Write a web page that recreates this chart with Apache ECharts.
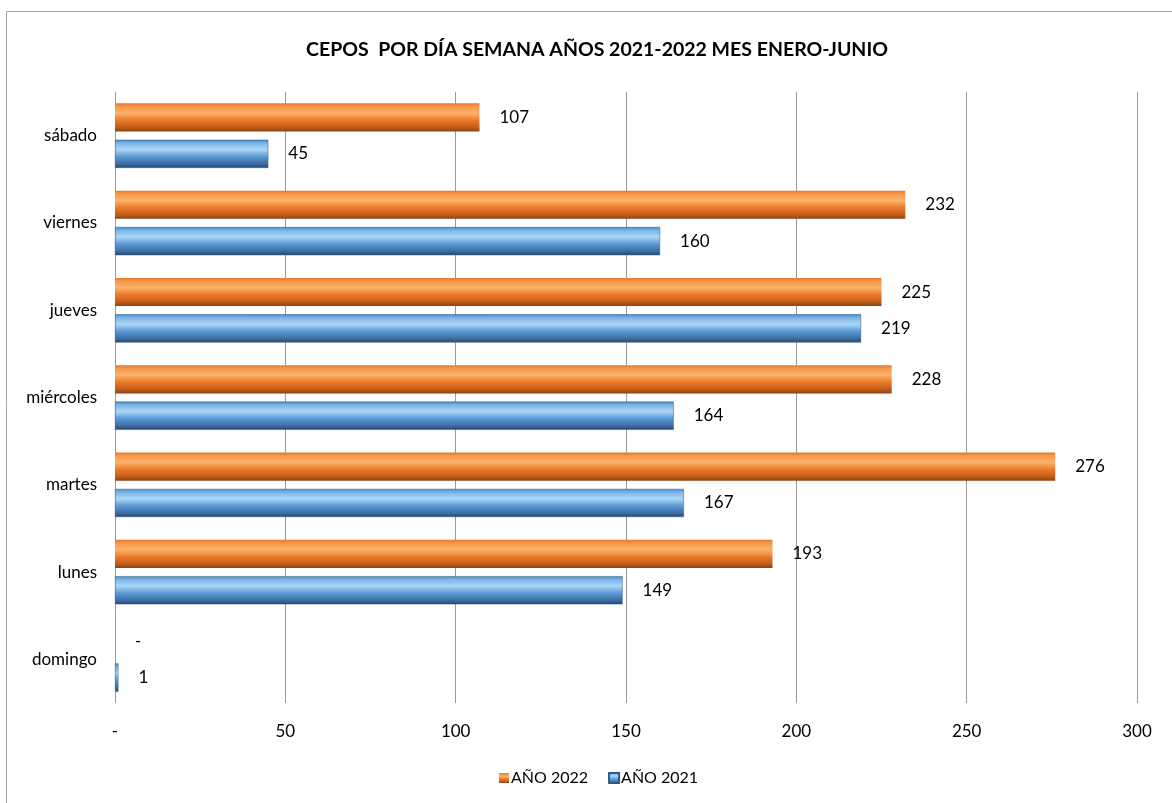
<!DOCTYPE html>
<html>
<head>
<meta charset="utf-8">
<script src="https://cdn.jsdelivr.net/npm/echarts@6/dist/echarts.min.js"></script>
<style>
  html, body { margin: 0; padding: 0; background: #fff; }
  #chart { width: 1172px; height: 803px; }
</style>
</head>
<body>
<div id="chart"></div>
<script>
const days = ['domingo', 'lunes', 'martes', 'miércoles', 'jueves', 'viernes', 'sábado'];
const year2021 = [1, 149, 167, 164, 219, 160, 45];
const year2022 = [0, 193, 276, 228, 225, 232, 107];
const xTicks = [0, 50, 100, 150, 200, 250, 300];

const FONT = 'Lato, "Open Sans", sans-serif';

function grad(stops) {
  return new echarts.graphic.LinearGradient(0, 0, 0, 1, stops.map(s => ({ offset: s[0], color: s[1] })));
}

const orangeFill = grad([[0, '#e8782a'], [0.12, '#f6984a'], [0.35, '#fcb26c'], [0.6, '#ec7a28'], [0.85, '#c25e1a'], [1, '#8a4210']]);
const blueFill = grad([[0, '#4a86c6'], [0.12, '#7cb4e6'], [0.35, '#acd6f7'], [0.6, '#5a9ad6'], [0.85, '#3e6fa3'], [1, '#23486f']]);

const valueLabel = {
  show: true,
  position: 'right',
  distance: 20,
  fontSize: 17,
  color: '#000',
  formatter: p => (p.value === 0 ? '-' : String(p.value))
};

const chart = echarts.init(document.getElementById('chart'));

const option = {
  animation: false,
  textStyle: { fontFamily: FONT },
  title: {
    text: 'CEPOS  POR DÍA SEMANA AÑOS 2021-2022 MES ENERO-JUNIO',
    left: 592,
    textAlign: 'center',
    top: 35,
    textStyle: { fontSize: 19.5, fontWeight: 'bold', color: '#000', fontFamily: FONT }
  },
  legend: {
    data: ['AÑO 2022', 'AÑO 2021'],
    top: 765,
    left: 494,
    itemWidth: 10,
    itemHeight: 10,
    itemGap: 20,
    icon: 'rect',
    textStyle: { fontSize: 16, color: '#000', padding: [0, 0, 0, -3] }
  },
  graphic: [{
    type: 'rect',
    shape: { x: 6.5, y: 11.5, width: 1180, height: 800 },
    style: { fill: 'none', stroke: '#a6a6a6', lineWidth: 1 },
    silent: true
  }],
  grid: { left: 115, right: 35, top: 92, bottom: 100 },
  xAxis: {
    type: 'value',
    min: 0,
    max: 300,
    interval: 50,
    axisLine: { show: false },
    axisTick: { show: false },
    splitLine: { show: true, lineStyle: { color: '#999999', width: 1 } },
    axisLabel: {
      fontSize: 17,
      color: '#000',
      margin: 20,
      formatter: v => (xTicks.includes(v) ? (v === 0 ? '-' : String(v)) : '')
    }
  },
  yAxis: {
    type: 'category',
    data: days,
    axisLine: { show: false },
    axisTick: { show: false },
    axisLabel: { fontSize: 17, color: '#000', margin: 18 }
  },
  series: [
    {
      name: 'AÑO 2022',
      type: 'bar',
      data: year2022,
      barCategoryGap: '26%',
      barGap: '29%',
      itemStyle: { color: orangeFill },
      label: valueLabel
    },
    {
      name: 'AÑO 2021',
      type: 'bar',
      data: year2021,
      barCategoryGap: '26%',
      barGap: '29%',
      itemStyle: { color: blueFill, borderColor: '#2f5a86', borderWidth: 0.5 },
      label: valueLabel
    }
  ]
};

chart.setOption(option);
</script>
</body>
</html>
